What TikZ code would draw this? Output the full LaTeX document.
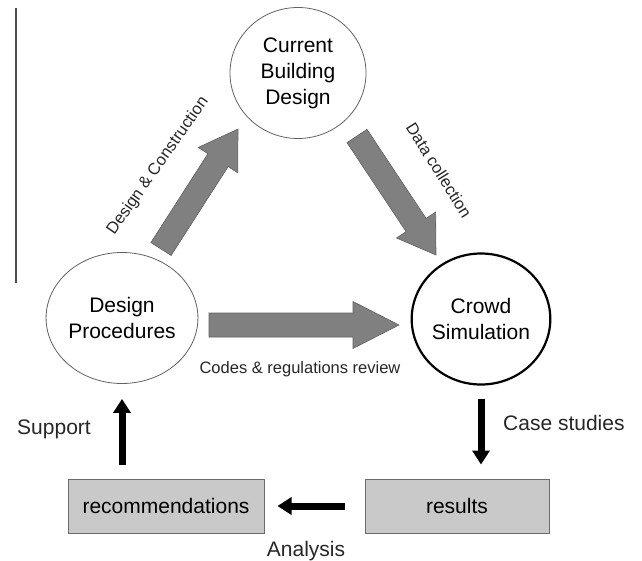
\documentclass[tikz,border=0pt]{standalone}
\usepackage{fontspec}
\setmainfont{Liberation Sans}
\usetikzlibrary{calc,arrows.meta,shapes.geometric}
\def\fatarrow[#1](#2)(#3)#4{%
	\coordinate (hb) at ($(#3)!#4pt!(#2)$);
	\draw[#1] ($(#2)!12pt!90:(#3)$) -- ($(hb)!12pt!90:(#3)$) -- ($(hb)!23.5pt!90:(#3)$) -- (#3)
		-- ($(hb)!23.5pt!-90:(#3)$) -- ($(hb)!12pt!-90:(#3)$) -- ($(#2)!12pt!-90:(#3)$) -- cycle;}
\tikzset{
	bubble/.style={ellipse, draw=black!62, line width=0.8pt, minimum width=136pt, minimum height=131pt, inner sep=0pt, align=center, font=\fontsize{21}{26}\selectfont},
	box/.style={rectangle, draw=black!58, fill=black!21, line width=1pt, minimum height=54pt, font=\fontsize{21}{26}\selectfont},
	lbl/.style={font=\fontsize{21}{26}\selectfont, text=black!85},
	small/.style={font=\fontsize{16.5}{20}\selectfont, text=black!85},
	big/.style={fill=black!50, draw=black!62, line width=0.6pt},
	blk/.style={line width=7pt, -{Triangle[width=17pt,length=14pt]}}
}

\begin{document}
\begin{tikzpicture}[x=1pt,y=-1pt]
		%%%%% START %%%%%
		\useasboundingbox (0,0) rectangle (642,560);
		
		\draw[line width=1.4pt, color=black!70] (16,8) -- (16,283);
		
		\node[bubble] (cbd) at (298,73) {Current\\Building\\Design};
		\node[bubble] (dp) at (122,318) {Design\\Procedures};
		\node[bubble, draw=black, line width=2.2pt] (cs) at (481,319) {Crowd\\Simulation};
		
		\node[box, minimum width=196pt] (rec) at (166,506) {recommendations};
		\node[box, minimum width=184pt] (res) at (457,506) {results};
		
		\coordinate (dc-s) at (161,249);
		\coordinate (dc-e) at (238,129);
		\coordinate (col-s) at (357,136);
		\coordinate (col-e) at (436,255);
		\coordinate (rev-s) at (209,325);
		\coordinate (rev-e) at (399,325);
		
		\fatarrow[big](dc-s)(dc-e){37}
		\fatarrow[big](col-s)(col-e){36}
		\fatarrow[big](rev-s)(rev-e){46}
		
		\draw[blk, shorten <=13pt, shorten >=14pt] (cs.south) -- (res.north -| cs.south);
		\draw[blk, shorten <=20pt, shorten >=13pt] (res.west) -- (rec.east);
		\draw[blk, shorten <=14pt, shorten >=15pt] (rec.north -| dp.south) -- (dp.south);
		
		\node[small, rotate=55] (l-dc) at (158,166) {Design \& Construction};
		\node[small, rotate=-58] (l-col) at (439,170) {Data collection};
		\node[small] (l-rev) at (300,369) {Codes \& regulations review};
		\node[lbl, anchor=west, inner sep=0pt] (l-case) at (503,423) {Case studies};
		\node[lbl] (l-sup) at (54,429) {Support};
		\node[lbl] (l-ana) at (306,551) {Analysis};
		
		%%%%% END %%%%%
	\end{tikzpicture}
\end{document}
